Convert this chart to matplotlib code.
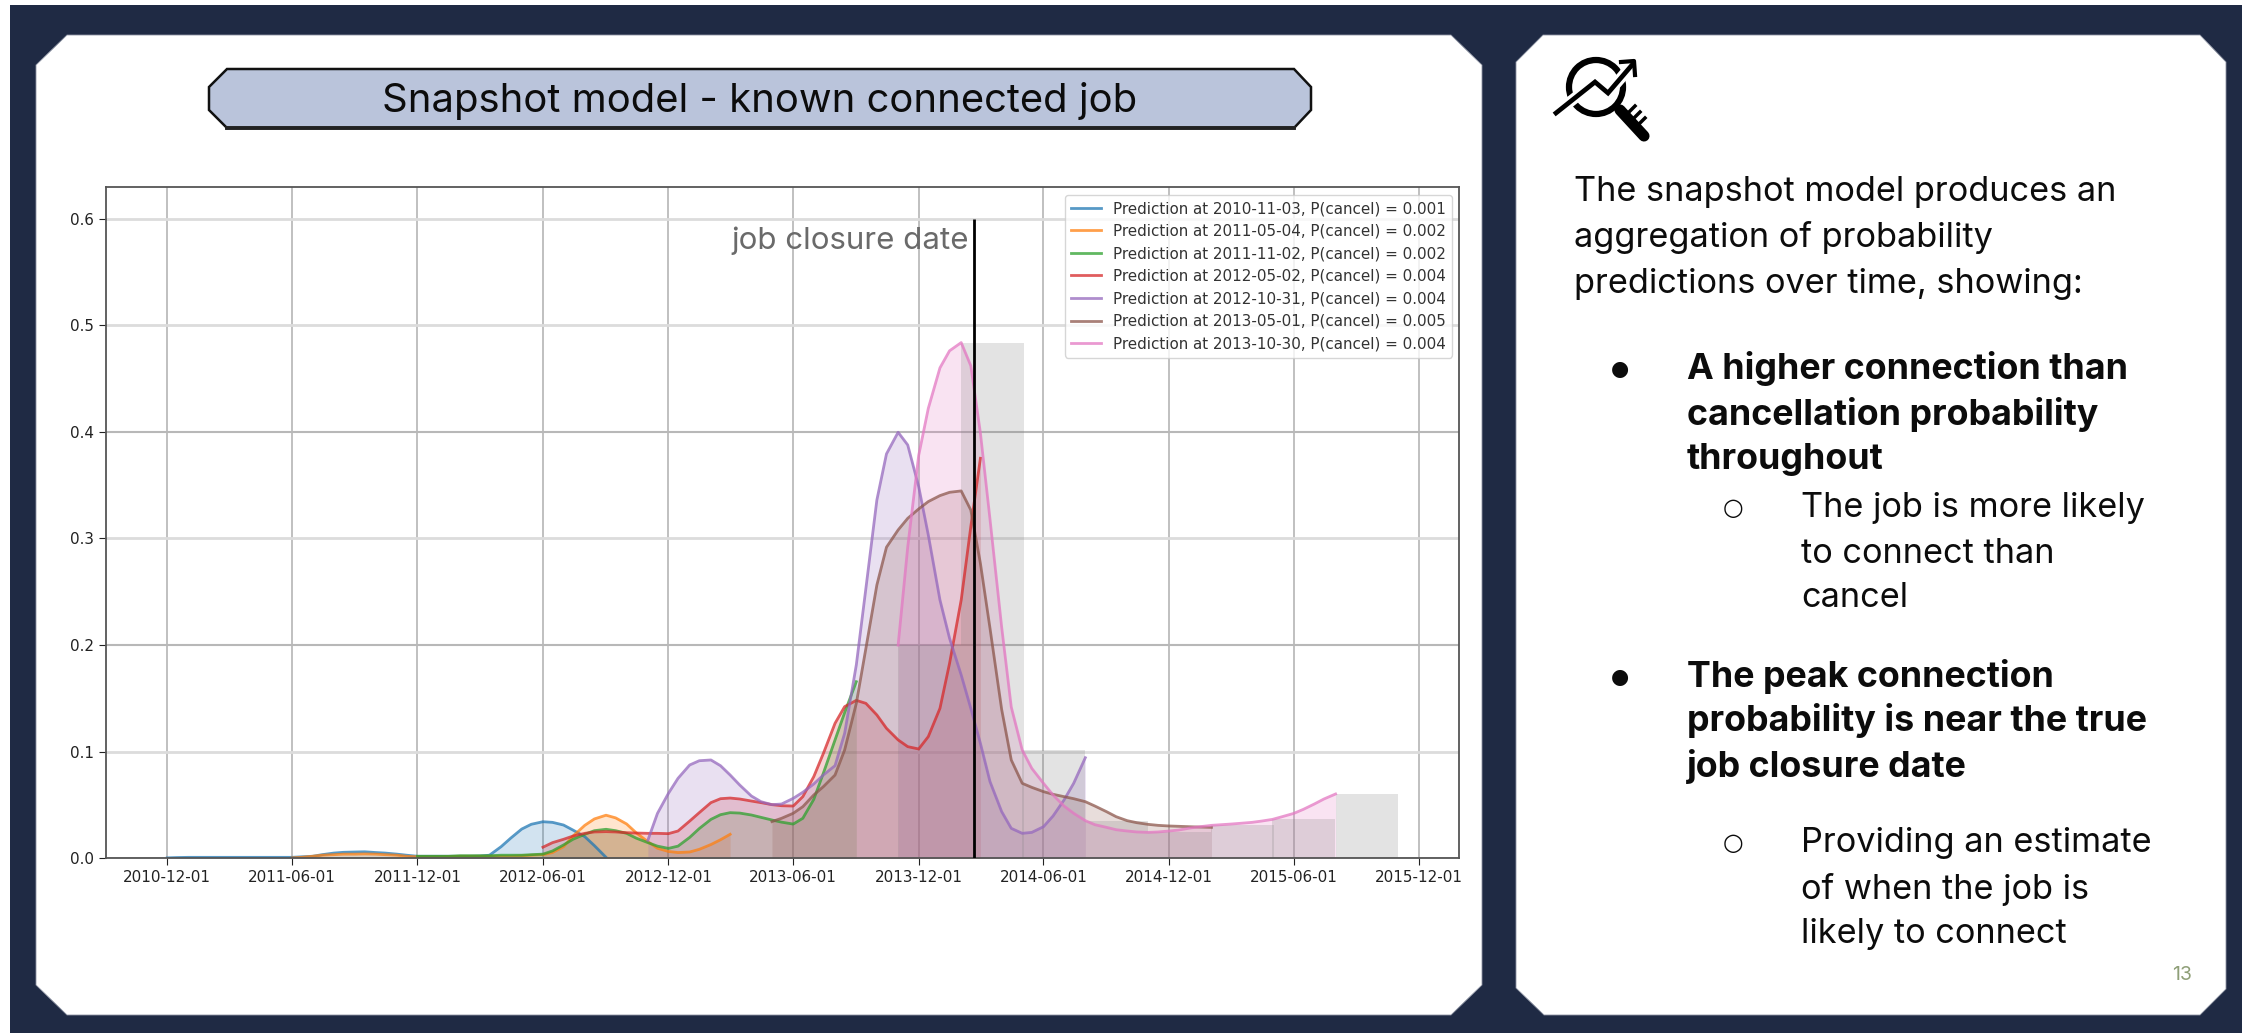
import numpy as np
import pandas as pd
import matplotlib
matplotlib.use('Agg')
import matplotlib.pyplot as plt
from matplotlib.patches import Polygon, Circle
import matplotlib.dates as mdates

W, H = 2242, 1033
NAVY = '#1f2a44'

labels = ['Prediction at 2010-11-03, P(cancel) = 0.001',
          'Prediction at 2011-05-04, P(cancel) = 0.002',
          'Prediction at 2011-11-02, P(cancel) = 0.002',
          'Prediction at 2012-05-02, P(cancel) = 0.004',
          'Prediction at 2012-10-31, P(cancel) = 0.004',
          'Prediction at 2013-05-01, P(cancel) = 0.005',
          'Prediction at 2013-10-30, P(cancel) = 0.004']

# readings on the 1st and 15th of each month
blue = [.0005, .0008, .001, .001, .001, .001, .001, .001, .001, .001, .001, .001,
        .001, .0015, .002, .0035, .005, .0057, .006, .0062, .0055, .005, .004, .003,
        .002, .002, .002, .002, .002, .002, .0022, .003, .011, .019, .0275, .032,
        .0344, .0338, .0313, .0265, .0204, .012, .001]
orange = [.0005, .001, .002, .003, .0035, .004, .004, .0042, .004, .0035, .003, .002,
          .0015, .0015, .0015, .0017, .002, .002, .002, .002, .002, .002, .0025, .003,
          .0035, .0055, .011, .021, .031, .037, .0405, .038, .0323, .024, .0157, .0095,
          .0065, .0055, .006, .0085, .013, .0175, .0226]
green = [.002, .002, .002, .002, .0025, .0025, .0025, .0025, .003, .003, .003, .0035,
         .004, .007, .0126, .018, .0226, .026, .0273, .026, .0235, .019, .0148, .0115,
         .0094, .0115, .0197, .028, .0366, .041, .0429, .0425, .0407, .0385, .036, .034,
         .0322, .0376, .0554, .08, .1111, .1367, .1657]
red = [.0105, .0148, .0179, .021, .0235, .0248, .0251, .0248, .0241, .0238, .0235,
       .0235, .0232, .0257, .035, .0429, .0523, .056, .0566, .0557, .0538, .0523,
       .0504, .0494, .0491, .0579, .0767, .0985, .1267, .1423, .1482, .1454, .1345,
       .122, .1111, .1048, .1026, .1142, .1407, .1829, .2424, .3111, .3752]
purple = [.017, .0422, .061, .0751, .0876, .0916, .0923, .0869, .0782, .0688, .0585,
          .0532, .0504, .051, .0563, .062, .0698, .0782, .087, .1173, .1814, .2533,
          .3361, .3793, .3996, .3877, .3486, .3033, .2424, .2064, .172, .1407, .1079,
          .072, .0439, .0282, .0235, .0244, .0297, .0398, .0548, .0704, .0944]
brown = [.0345, .0376, .0423, .0485, .0595, .0673, .0782, .1017, .1454, .197, .2564,
         .2918, .308, .3189, .3277, .3346, .3402, .3433, .3446, .3267, .2767, .2158,
         .1397, .0923, .0704, .0666, .0626, .0601, .0579, .056, .0532, .0491, .0438,
         .0391, .0354, .0335, .0319, .031, .0304, .0301, .0297, .0294, .0291]
pink = [.2, .292, .378, .422, .46, .476, .4837, .462, .399, .318, .217, .142,
        .1016, .0844, .0704, .0594, .0491, .0423, .0354, .0316, .0291, .0269, .0257,
        .0248, .0244, .0248, .0257, .0266, .0285, .0297, .031, .0316, .0322, .0329,
        .0338, .035, .0366, .0391, .0422, .046, .051, .0557, .0604]

series = [blue, orange, green, red, purple, brown, pink]
starts = ['2010-12-01', '2011-06-01', '2011-12-01', '2012-06-01',
          '2012-11-01', '2013-05-01', '2013-11-01']
colors = ['C0', 'C1', 'C2', 'C3', 'C4', 'C5', 'C6']

closure_date = '2014-02-20'
xticks = pd.date_range('2010-12-01', '2015-12-01', freq='6MS')

fig = plt.figure(figsize=(W / 100, H / 100), dpi=100, facecolor='white')

# slide background, in pixels
bg = fig.add_axes([0, 0, 1, 1], zorder=0)
bg.set_xlim(0, W)
bg.set_ylim(H, 0)
bg.axis('off')
bg.add_patch(Polygon([(10, 5), (W, 5), (W, H), (10, H)], fc=NAVY, ec='none'))
bg.add_patch(Polygon([(67, 35), (1451, 35), (1482, 65), (1482, 985), (1451, 1015),
                      (67, 1015), (36, 985), (36, 65)], fc='white', ec='#8d93a3', lw=.6))
bg.add_patch(Polygon([(1543, 35), (2200, 35), (2226, 62), (2226, 989), (2200, 1015),
                      (1544, 1015), (1516, 988), (1516, 62)], fc='white', ec='#8d93a3', lw=.6))

# title box
bg.add_patch(Polygon([(227, 69), (1294, 69), (1311, 87), (1311, 110), (1294, 128), (227, 128),
                      (209, 110), (209, 87)], fc='#bac4db', ec='#111111', lw=1.8))
bg.plot([227, 1294], [128, 128], color='#222222', lw=2.8)
bg.text(760, 101, 'Snapshot model - known connected job', family='Inter', fontsize=28.8,
        color='#0c0c0c', ha='center', va='center')

# icon
bg.add_patch(Circle((1596, 87), 27, fc='none', ec='black', lw=4.5))
zig_x = [1556, 1595, 1608, 1632]
zig_y = [113, 82, 93, 65]
bg.plot(zig_x, zig_y, color='white', lw=8, solid_capstyle='butt')
bg.plot(zig_x, zig_y, color='black', lw=3.4, solid_joinstyle='miter')
bg.plot([1621, 1634, 1635], [62, 61, 75], color='black', lw=3)
bg.plot([1620, 1644], [110, 136], color='black', lw=8, solid_capstyle='round')
for tx, ty in [(1629, 112), (1634, 118), (1639, 124)]:
    bg.plot([tx, tx + 6], [ty, ty - 6], color='black', lw=2.5)

# right hand text
font = {'family': 'Inter', 'fontsize': 24.7, 'color': '#0c0c0c', 'va': 'center'}
bold = dict(font, fontweight='bold', fontsize=25.8)
for y, s in [(192, 'The snapshot model produces an'), (238, 'aggregation of probability'),
             (284, 'predictions over time, showing:')]:
    bg.text(1574, y, s, **font)
for y, s in [(369, 'A higher connection than'), (414, 'cancellation probability'),
             (460, 'throughout'), (677, 'The peak connection'),
             (721, 'probability is near the true'), (767, 'job closure date')]:
    bg.text(1687, y, s, **bold)
for y, s in [(508, 'The job is more likely'), (554, 'to connect than'), (598, 'cancel'),
             (843, 'Providing an estimate'), (889, 'of when the job is'),
             (934, 'likely to connect')]:
    bg.text(1801, y, s, **font)
for y in [369, 677]:
    bg.text(1620, y, '\u25cf', family='DejaVu Sans', fontsize=15, ha='center', va='center', color='#0c0c0c')
for y in [508, 843]:
    bg.text(1733, y, '\u25cb', family='DejaVu Sans', fontsize=17, ha='center', va='center', color='#0c0c0c')
bg.text(2182, 975, '13', family='Inter', fontsize=14, color='#8f9f78', ha='center', va='center')

# chart
left, right, top, bottom = 105.5, 1459, 187, 858.4
ax = fig.add_axes([left / W, 1 - bottom / H, (right - left) / W, (bottom - top) / H], zorder=1)

for vals, start, col, lab in zip(series, starts, colors, labels):
    x = pd.date_range(start, periods=len(vals), freq='SMS')
    ax.fill_between(x, 0, vals, color=col, alpha=.2, lw=0)
    ax.plot(x, vals, color=col, lw=2, alpha=.75, label=lab)

# quarterly bars for the latest prediction only
pink_x = pd.date_range(starts[-1], periods=len(pink), freq='SMS')
ax.bar(pink_x[::6], pink[::6], width=91, align='edge', color='gray', alpha=.22, lw=0)

ax.vlines(pd.Timestamp(closure_date), 0, .6, color='black', lw=2, zorder=5)
ax.text(pd.Timestamp('2014-02-12'), .579, 'job closure date', family='Inter', fontsize=22.5,
        color='#6a6a6a', ha='right', va='center')

ax.set_xlim(pd.Timestamp('2010-09-02'), pd.Timestamp('2016-01-28'))
ax.set_ylim(0, .6296)
ax.set_xticks(xticks)
ax.xaxis.set_major_formatter(mdates.DateFormatter('%Y-%m-%d'))
ax.set_yticks([0, .1, .2, .3, .4, .5, .6])
ax.tick_params(labelsize=10.9, colors='#222222', length=5)
ax.grid(axis='x', color='#c0c0c0', lw=1.4)
ax.grid(axis='y', color='#dcdcdc', lw=2)
for i in [2, 4]:
    ax.yaxis.get_gridlines()[i].set(color='#b8b8b8', lw=1.5)
ax.set_axisbelow(True)
for sp in ax.spines.values():
    sp.set_color('#555555')
    sp.set_linewidth(1.3)

ax.legend(loc='upper right', bbox_to_anchor=(1452, 195), bbox_transform=bg.transData,
          borderaxespad=0, fontsize=10.9, framealpha=.8, labelcolor='#333333')

fig.savefig('out.png', dpi=100)
